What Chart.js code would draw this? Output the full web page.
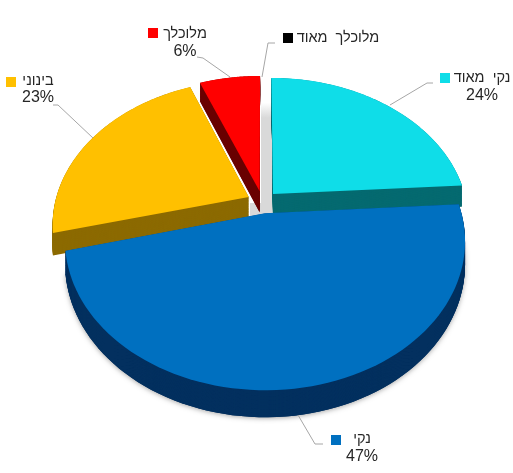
<!DOCTYPE html>
<html lang="he">
<head>
<meta charset="utf-8">
<style>
  html, body { margin: 0; padding: 0; background: #fff; }
  canvas { display: block; }
</style>
<script src="https://cdn.jsdelivr.net/npm/chart.js@4"></script>
</head>
<body>
<canvas id="pieChart" width="513" height="473"></canvas>
<script>
// Chart data
const categories = ['נקי  מאוד', 'נקי', 'בינוני', 'מלוכלך', 'מלוכלך  מאוד'];
const percents = [24, 47, 23, 6, 0];

// Colours per slice
const topColors = ['#0fdde8', '#0070c0', '#ffc000', '#ff0000', '#000000'];
const wallColors = ['#056a70', '#03305f', '#8c6a00', '#6a0000', '#000000'];

// Where each legend entry sits: [marker x, marker y, marker size, text centre x, text y, percent y]
const labelLayout = [
  [440, 73, 10, 482, 78, 96],
  [331, 435, 10, 362, 439, 457],
  [6, 77, 10, 38, 81, 98],
  [148, 28, 10, 185, 34, 52],
  [283, 33, 10, 338, 38, 0]
];
// Leader lines, label end first
const leaderLines = [
  [[433, 83], [427, 83], [390, 105]],
  [[323, 444], [315, 444], [298, 415]],
  [[53, 105], [58, 105], [93, 138]],
  [[197, 57], [203, 58], [230, 77]],
  [[275, 43], [268, 43], [262, 77]]
];

// 3D look of the pie
const centerX = 262.5;
const centerY = 202;
const scaleX = 193.7;
const scaleY = 140;
const depth = 21.7;
const perspective = 0.183;
const explode = 0.08;

function project(u, v, z) {
  const w = 1 - perspective * v;
  return [centerX + scaleX * u / w, centerY + (scaleY * v + depth * z) / w];
}

function traceSlice(ctx, arc, z) {
  const mid = (arc.startAngle + arc.endAngle) / 2;
  const u0 = explode * Math.cos(mid);
  const v0 = explode * Math.sin(mid);
  ctx.beginPath();
  ctx.moveTo(...project(u0, v0, z));
  for (let i = 0; i <= 80; i++) {
    const a = arc.startAngle + (arc.endAngle - arc.startAngle) * i / 80;
    ctx.lineTo(...project(u0 + Math.cos(a), v0 + Math.sin(a), z));
  }
  ctx.closePath();
}

const pie3d = {
  id: 'pie3d',
  beforeDatasetDraw(chart) {
    const ctx = chart.ctx;
    const arcs = chart.getDatasetMeta(0).data;

    // Light grey strip behind the gap at the top of the pie
    const strip = ctx.createLinearGradient(0, 103, 0, 118);
    strip.addColorStop(0, 'rgba(214,214,214,0)');
    strip.addColorStop(1, '#d9d9d9');
    ctx.fillStyle = strip;
    ctx.fillRect(261, 103, 12, 112);
    ctx.fillStyle = '#d9d9d9';
    ctx.fillRect(250, 203, 12, 13);

    // Back to front
    const order = arcs.map((arc, i) => i)
      .filter(i => percents[i] > 0)
      .sort((a, b) => Math.sin((arcs[a].startAngle + arcs[a].endAngle) / 2) -
                      Math.sin((arcs[b].startAngle + arcs[b].endAngle) / 2));

    order.forEach(i => {
      const arc = arcs[i];
      ctx.save();
      ctx.shadowColor = 'rgba(0,0,0,0.35)';
      ctx.shadowBlur = 5;
      ctx.shadowOffsetY = 1;
      ctx.fillStyle = wallColors[i];
      traceSlice(ctx, arc, 1);
      if (percents[i] > 30) ctx.fill();
      ctx.restore();
      ctx.fillStyle = wallColors[i];
      for (let z = 1; z > 0; z -= 0.03) {
        traceSlice(ctx, arc, z);
        ctx.fill();
      }
      ctx.fillStyle = topColors[i];
      traceSlice(ctx, arc, 0);
      ctx.fill();
    });
    return false;
  },
  afterDraw(chart) {
    const ctx = chart.ctx;
    ctx.save();
    ctx.strokeStyle = '#a6a6a6';
    ctx.lineWidth = 1;
    leaderLines.forEach(line => {
      ctx.beginPath();
      line.forEach((p, i) => i ? ctx.lineTo(p[0], p[1]) : ctx.moveTo(p[0], p[1]));
      ctx.stroke();
    });
    ctx.textAlign = 'center';
    ctx.textBaseline = 'middle';
    categories.forEach((name, i) => {
      const [mx, my, ms, tx, ty, py] = labelLayout[i];
      ctx.fillStyle = topColors[i];
      ctx.fillRect(mx, my, ms, ms);
      ctx.fillStyle = '#262626';
      ctx.font = '14.5px "Liberation Sans", Arial, sans-serif';
      ctx.direction = 'rtl';
      ctx.fillText(name, tx, ty);
      ctx.font = '16px "Liberation Sans", Arial, sans-serif';
      ctx.direction = 'ltr';
      if (percents[i] > 0) ctx.fillText(percents[i] + '%', tx, py);
    });
    ctx.restore();
  }
};

new Chart(document.getElementById('pieChart').getContext('2d'), {
  type: 'pie',
  data: {
    labels: categories,
    datasets: [{ data: percents, backgroundColor: topColors, borderWidth: 0 }]
  },
  options: {
    responsive: false,
    animation: false,
    plugins: { legend: { display: false }, tooltip: { enabled: false } }
  },
  plugins: [pie3d]
});
</script>
</body>
</html>
